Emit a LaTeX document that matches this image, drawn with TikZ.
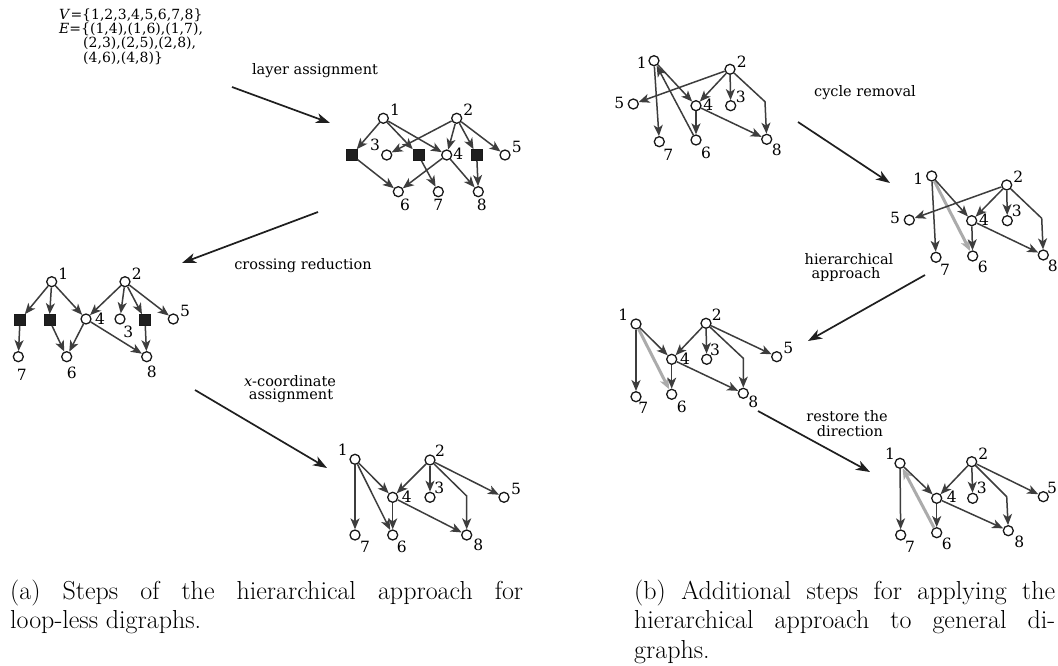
\documentclass[tikz,border=0pt]{standalone}
\usepackage{fontspec}
\newfontfamily\figfont{DejaVu Serif}
\usetikzlibrary{arrows.meta}
\tikzset{
  vx/.style={circle, draw=black!90, fill=white, line width=1.3pt, inner sep=0pt, minimum size=10pt},
  dum/.style={rectangle, draw=black!90, fill=black!88, line width=0.6pt, inner sep=0pt, minimum size=11pt},
  ed/.style={draw=black!76, line width=1.5pt, -{Stealth[length=11pt,width=9pt,inset=3pt]}},
  hl/.style={draw=black!33, line width=3pt, -{Stealth[length=11pt,width=9pt,inset=3pt]}},
  stp/.style={draw=black!88, line width=1.7pt, -{Stealth[length=14pt,width=10pt,inset=4pt]}},
  num/.style={font=\figfont\fontsize{15.5}{15.5}\selectfont, inner sep=0pt},
  txt/.style={font=\figfont\fontsize{14.5}{15}\selectfont, inner sep=0pt, align=center},
  settxt/.style={font=\figfont\fontsize{14}{14}\selectfont, inner sep=0pt, anchor=base west},
  captxt/.style={font=\fontsize{26}{30}\selectfont, inner sep=0pt, anchor=base west},
}
\begin{document}
\begin{tikzpicture}[x=1pt,y=-1pt]
\fill[white] (0,0) rectangle (1058,666);
\useasboundingbox (0,0) rectangle (1058,666);

% ---------- vertex and edge sets ----------
\node[settxt] (setv)  at (59,20)   {\textit{V}=\{1,2,3,4,5,6,7,8\}};
\node[settxt] (sete1) at (59,34)   {\textit{E}=\{(1,4),(1,6),(1,7),};
\node[settxt] (sete2) at (83,48)   {(2,3),(2,5),(2,8),};
\node[settxt] (sete3) at (83,62.5) {(4,6),(4,8)\}};

% ---------- (a) layer assignment ----------
\node[vx]  (a1-1)  at (383.3,118.3) {};
\node[vx]  (a1-2)  at (456.7,118.3) {};
\node[dum] (a1-da) at (351.7,155) {};
\node[vx]  (a1-3)  at (386.7,155) {};
\node[dum] (a1-db) at (418.3,155) {};
\node[vx]  (a1-4)  at (446.7,155) {};
\node[dum] (a1-dc) at (476.7,155) {};
\node[vx]  (a1-5)  at (505,155) {};
\node[vx]  (a1-6)  at (398.3,191.7) {};
\node[vx]  (a1-7)  at (438.3,191.7) {};
\node[vx]  (a1-8)  at (478.3,191.7) {};
\node[num] (a1-l1) at (395,109.3) {1};
\node[num] (a1-l2) at (468.3,109.3) {2};
\node[num] (a1-l3) at (375,145) {3};
\node[num] (a1-l4) at (458.3,154) {4};
\node[num] (a1-l5) at (516.7,146.7) {5};
\node[num] (a1-l6) at (405,205) {6};
\node[num] (a1-l7) at (438.3,205) {7};
\node[num] (a1-l8) at (481.7,205) {8};
\draw[ed] (a1-1) -- (a1-da);
\draw[ed] (a1-da) -- (a1-6);
\draw[ed] (a1-1) -- (a1-db);
\draw[ed] (a1-db) -- (a1-7);
\draw[ed] (a1-1) -- (a1-4);
\draw[ed] (a1-2) -- (a1-3);
\draw[ed] (a1-2) -- (a1-4);
\draw[ed] (a1-2) -- (a1-dc);
\draw[ed] (a1-dc) -- (a1-8);
\draw[ed] (a1-2) -- (a1-5);
\draw[ed] (a1-4) -- (a1-6);
\draw[ed] (a1-4) -- (a1-8);

% ---------- (a) crossing reduction ----------
\node[vx]  (a2-1)  at (51.7,281.7) {};
\node[vx]  (a2-2)  at (125,281.7) {};
\node[dum] (a2-da) at (20,320) {};
\node[dum] (a2-db) at (49.3,320) {};
\node[vx]  (a2-4)  at (86,319) {};
\node[vx]  (a2-3)  at (120,319) {};
\node[dum] (a2-dc) at (145,320) {};
\node[vx]  (a2-5)  at (173.3,319) {};
\node[vx]  (a2-7)  at (18.3,356.7) {};
\node[vx]  (a2-6)  at (66.7,356.7) {};
\node[vx]  (a2-8)  at (146.7,356.7) {};
\node[num] (a2-l1) at (63.3,273.3) {1};
\node[num] (a2-l2) at (136.7,273.3) {2};
\node[num] (a2-l3) at (128.3,331.7) {3};
\node[num] (a2-l4) at (100,318.3) {4};
\node[num] (a2-l5) at (185,310.7) {5};
\node[num] (a2-l6) at (71.7,373.3) {6};
\node[num] (a2-l7) at (21.7,375) {7};
\node[num] (a2-l8) at (151.7,371.7) {8};
\draw[ed] (a2-1) -- (a2-da);
\draw[ed] (a2-1) -- (a2-db);
\draw[ed] (a2-1) -- (a2-4);
\draw[ed] (a2-2) -- (a2-4);
\draw[ed] (a2-2) -- (a2-3);
\draw[ed] (a2-2) -- (a2-dc);
\draw[ed] (a2-2) -- (a2-5);
\draw[ed] (a2-da) -- (a2-7);
\draw[ed] (a2-db) -- (a2-6);
\draw[ed] (a2-4) -- (a2-6);
\draw[ed] (a2-4) -- (a2-8);
\draw[ed] (a2-dc) -- (a2-8);

% ---------- (a) x-coordinate assignment ----------
\node[vx]  (a3-1)  at (355,459.3) {};
\node[vx]  (a3-2)  at (430,460) {};
\node[vx]  (a3-4)  at (392.7,497.3) {};
\node[vx]  (a3-3)  at (430,497.3) {};
\node[vx]  (a3-5)  at (504,497.3) {};
\node[vx]  (a3-7)  at (355,535) {};
\node[vx]  (a3-6)  at (392.7,535) {};
\node[vx]  (a3-8)  at (466.7,535) {};
\coordinate (a3-k8) at (466.7,496);
\node[num] (a3-l1) at (342.7,450) {1};
\node[num] (a3-l2) at (440,450.7) {2};
\node[num] (a3-l3) at (439.3,488.3) {3};
\node[num] (a3-l4) at (406.7,496.7) {4};
\node[num] (a3-l5) at (516,489.3) {5};
\node[num] (a3-l6) at (401.7,546.7) {6};
\node[num] (a3-l7) at (365,546.7) {7};
\node[num] (a3-l8) at (478.3,545) {8};
\draw[ed] (a3-1) -- (a3-7);
\draw[ed] (a3-1) -- (a3-6);
\draw[ed] (a3-1) -- (a3-4);
\draw[ed] (a3-2) -- (a3-4);
\draw[ed] (a3-2) -- (a3-3);
\draw[ed] (a3-2) -- (a3-5);
\draw[ed] (a3-2) -- (a3-k8) -- (a3-8);
\draw[ed] (a3-4) -- (a3-6);
\draw[ed] (a3-4) -- (a3-8);

% ---------- (a) step arrows ----------
\coordinate (s1a) at (232,87);   \coordinate (s1b) at (330,123);
\coordinate (s2a) at (318,212);  \coordinate (s2b) at (182,263);
\coordinate (s3a) at (195,390);  \coordinate (s3b) at (327,468);
\draw[stp] (s1a) -- (s1b);
\draw[stp] (s2a) -- (s2b);
\draw[stp] (s3a) -- (s3b);
\node[txt] (t-layer) at (315,71) {layer assignment};
\node[txt] (t-cross) at (303,266) {crossing reduction};
\node[txt] (t-xc1) at (290,381) {\textit{x}-coordinate};
\node[txt] (t-xc2) at (291,396) {assignment};

% ---------- (b) input digraph ----------
\node[vx]  (b1-1)  at (654,60.7) {};
\node[vx]  (b1-2)  at (730,69.3) {};
\node[vx]  (b1-5)  at (633.3,104) {};
\node[vx]  (b1-4)  at (696,105.7) {};
\node[vx]  (b1-3)  at (730.7,105.7) {};
\node[vx]  (b1-7)  at (659.3,141.7) {};
\node[vx]  (b1-6)  at (696,140) {};
\node[vx]  (b1-8)  at (766.7,139.3) {};
\coordinate (b1-k8) at (765,101.7);
\node[num] (b1-l1) at (641.7,62.7) {1};
\node[num] (b1-l2) at (741.7,61.7) {2};
\node[num] (b1-l3) at (740.7,96.7) {3};
\node[num] (b1-l4) at (708.3,105) {4};
\node[num] (b1-l5) at (619.3,102.7) {5};
\node[num] (b1-l6) at (706,152.7) {6};
\node[num] (b1-l7) at (668.3,155) {7};
\node[num] (b1-l8) at (776.7,150) {8};
\draw[ed] (b1-2) -- (b1-5);
\draw[ed] (b1-1) -- (b1-7);
\draw[ed] (b1-6) -- (b1-1);
\draw[ed] (b1-1) -- (b1-4);
\draw[ed] (b1-2) -- (b1-4);
\draw[ed] (b1-2) -- (b1-3);
\draw[ed] (b1-2) -- (b1-k8) -- (b1-8);
\draw[ed] (b1-4) -- (b1-6);
\draw[ed] (b1-4) -- (b1-8);

% ---------- (b) cycle removal ----------
\node[vx]  (b2-1)  at (931.7,176) {};
\node[vx]  (b2-2)  at (1006.7,185) {};
\node[vx]  (b2-5)  at (909.3,220) {};
\node[vx]  (b2-4)  at (971.7,220.7) {};
\node[vx]  (b2-3)  at (1007.3,220.7) {};
\node[vx]  (b2-7)  at (936,257.3) {};
\node[vx]  (b2-6)  at (972.7,256) {};
\node[vx]  (b2-8)  at (1043.3,255) {};
\coordinate (b2-k8) at (1041.7,218.3);
\node[num] (b2-l1) at (918.3,178.3) {1};
\node[num] (b2-l2) at (1018.3,176.7) {2};
\node[num] (b2-l3) at (1016.7,210.7) {3};
\node[num] (b2-l4) at (984,220) {4};
\node[num] (b2-l5) at (895,218.3) {5};
\node[num] (b2-l6) at (982.7,267.3) {6};
\node[num] (b2-l7) at (945,270) {7};
\node[num] (b2-l8) at (1052.7,266) {8};
\draw[hl] (b2-1) -- (b2-6);
\draw[ed] (b2-1) -- (b2-7);
\draw[ed] (b2-1) -- (b2-4);
\draw[ed] (b2-2) -- (b2-4);
\draw[ed] (b2-2) -- (b2-3);
\draw[ed] (b2-2) -- (b2-5);
\draw[ed] (b2-2) -- (b2-k8) -- (b2-8);
\draw[ed] (b2-4) -- (b2-6);
\draw[ed] (b2-4) -- (b2-8);

% ---------- (b) hierarchical approach ----------
\node[vx]  (b3-1)  at (636,324) {};
\node[vx]  (b3-2)  at (706,323.3) {};
\node[vx]  (b3-4)  at (671.7,359.3) {};
\node[vx]  (b3-3)  at (706.7,359.3) {};
\node[vx]  (b3-5)  at (776.7,356.7) {};
\node[vx]  (b3-7)  at (636,396.7) {};
\node[vx]  (b3-6)  at (671.7,394.3) {};
\node[vx]  (b3-8)  at (743.3,393.3) {};
\coordinate (b3-k8) at (743.3,358.3);
\node[num] (b3-l1) at (623.3,315) {1};
\node[num] (b3-l2) at (716.7,315) {2};
\node[num] (b3-l3) at (715,350) {3};
\node[num] (b3-l4) at (685,358.3) {4};
\node[num] (b3-l5) at (788.3,348.3) {5};
\node[num] (b3-l6) at (681.7,406.7) {6};
\node[num] (b3-l7) at (643.3,408.3) {7};
\node[num] (b3-l8) at (753.3,401.7) {8};
\draw[hl] (b3-1) -- (b3-6);
\draw[ed] (b3-1) -- (b3-7);
\draw[ed] (b3-1) -- (b3-4);
\draw[ed] (b3-2) -- (b3-4);
\draw[ed] (b3-2) -- (b3-3);
\draw[ed] (b3-2) -- (b3-5);
\draw[ed] (b3-2) -- (b3-k8) -- (b3-8);
\draw[ed] (b3-4) -- (b3-6);
\draw[ed] (b3-4) -- (b3-8);

% ---------- (b) restored direction ----------
\node[vx]  (b4-1)  at (900,463.3) {};
\node[vx]  (b4-2)  at (971.7,461.7) {};
\node[vx]  (b4-4)  at (936.7,498.3) {};
\node[vx]  (b4-3)  at (972.7,498.3) {};
\node[vx]  (b4-5)  at (1043.3,496.7) {};
\node[vx]  (b4-7)  at (900.7,535) {};
\node[vx]  (b4-6)  at (936.7,532.7) {};
\node[vx]  (b4-8)  at (1008.3,530.7) {};
\coordinate (b4-k8) at (1006.7,496.7);
\node[num] (b4-l1) at (890,453.3) {1};
\node[num] (b4-l2) at (983.3,453.3) {2};
\node[num] (b4-l3) at (981.7,488.3) {3};
\node[num] (b4-l4) at (951.7,496.7) {4};
\node[num] (b4-l5) at (1052,488.3) {5};
\node[num] (b4-l6) at (946.7,544) {6};
\node[num] (b4-l7) at (910,546.7) {7};
\node[num] (b4-l8) at (1019.3,541.7) {8};
\draw[hl] (b4-6) -- (b4-1);
\draw[ed] (b4-1) -- (b4-7);
\draw[ed] (b4-1) -- (b4-4);
\draw[ed] (b4-2) -- (b4-4);
\draw[ed] (b4-2) -- (b4-3);
\draw[ed] (b4-2) -- (b4-5);
\draw[ed] (b4-2) -- (b4-k8) -- (b4-8);
\draw[ed] (b4-4) -- (b4-6);
\draw[ed] (b4-4) -- (b4-8);

% ---------- (b) step arrows ----------
\coordinate (s4a) at (798,122);  \coordinate (s4b) at (890,183);
\coordinate (s5a) at (925,275);  \coordinate (s5b) at (808,341);
\coordinate (s6a) at (758,411);  \coordinate (s6b) at (870,472);
\draw[stp] (s4a) -- (s4b);
\draw[stp] (s5a) -- (s5b);
\draw[stp] (s6a) -- (s6b);
\node[txt] (t-cycle) at (865,93) {cycle removal};
\node[txt] (t-hier1) at (849,259) {hierarchical};
\node[txt] (t-hier2) at (846,274) {approach};
\node[txt] (t-rest1) at (847,416) {restore the};
\node[txt] (t-rest2) at (850,431) {direction};

% ---------- captions ----------
\node[captxt] (cap-a1) at (10,599) {\makebox[513pt][s]{(a) Steps of the hierarchical approach for}};
\node[captxt] (cap-a2) at (10,628.5) {loop-less digraphs.};
\node[captxt] (cap-b1) at (634,599) {\makebox[421pt][s]{(b) Additional steps for applying the}};
\node[captxt] (cap-b2) at (634,628.5) {\makebox[421pt][s]{hierarchical approach to general di-}};
\node[captxt] (cap-b3) at (634,658) {graphs.};
\end{tikzpicture}
\end{document}
